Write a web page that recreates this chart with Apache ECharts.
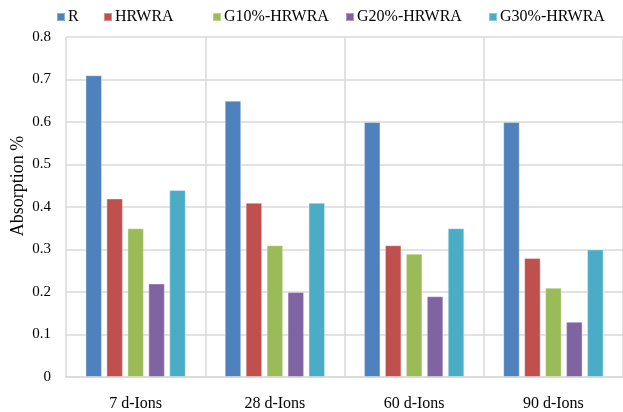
<!DOCTYPE html>
<html>
<head>
<meta charset="utf-8">
<script src="https://cdn.jsdelivr.net/npm/echarts@6/dist/echarts.min.js"></script>
<style>
  html, body { margin: 0; padding: 0; background: #fff; }
  #chart { width: 623px; height: 412px; }
</style>
</head>
<body>
<div id="chart"></div>
<script>
// Categories (exposure periods) and absorption values per mix
const categories = ['7 d-Ions', '28 d-Ions', '60 d-Ions', '90 d-Ions'];
const seriesNames = ['R', 'HRWRA', 'G10%-HRWRA', 'G20%-HRWRA', 'G30%-HRWRA'];
const valuesR     = [0.71, 0.65, 0.60, 0.60];
const valuesHRWRA = [0.42, 0.41, 0.31, 0.28];
const valuesG10   = [0.35, 0.31, 0.29, 0.21];
const valuesG20   = [0.22, 0.20, 0.19, 0.13];
const valuesG30   = [0.44, 0.41, 0.35, 0.30];
const yTicks = [0, 0.1, 0.2, 0.3, 0.4, 0.5, 0.6, 0.7, 0.8];

const seriesValues = [valuesR, valuesHRWRA, valuesG10, valuesG20, valuesG30];
const colors = ['#4F81BD', '#C0504D', '#9BBB59', '#8064A2', '#4BACC6'];
const font = '"Liberation Serif", "Times New Roman", serif';
const gridColor = '#D9D9D9';

// Legend entries placed individually
const legendLeft = [56, 103, 212, 345, 488];
const legends = seriesNames.map((name, i) => ({
  data: [name],
  left: legendLeft[i],
  top: 9,
  padding: 0,
  itemWidth: 8,
  itemHeight: 8,
  itemGap: 0,
  icon: 'rect',
  textStyle: { fontFamily: font, fontSize: 16, color: '#000', padding: [0, 0, 0, -2] }
}));

const chart = echarts.init(document.getElementById('chart'), null, { renderer: 'canvas' });
chart.setOption({
  animation: false,
  backgroundColor: '#fff',
  color: colors,
  legend: legends,
  grid: { left: 66, top: 37, width: 560, height: 343.5, containLabel: false },
  graphic: [{
    type: 'text',
    x: 18,
    y: 186,
    rotation: Math.PI / 2,
    style: {
      text: 'Absorption %',
      font: '18px ' + font,
      fill: '#000',
      textAlign: 'center',
      textVerticalAlign: 'middle'
    }
  }],
  xAxis: {
    type: 'category',
    data: categories,
    axisLine: { show: true, lineStyle: { color: gridColor, width: 1.5 } },
    axisTick: { show: false },
    splitLine: { show: true, lineStyle: { color: gridColor, width: 1.5 } },
    axisLabel: { fontFamily: font, fontSize: 16, color: '#000', margin: 19 }
  },
  yAxis: {
    type: 'value',
    min: yTicks[0],
    max: yTicks[yTicks.length - 1],
    interval: 0.1,
    axisLine: { show: false },
    axisTick: { show: false },
    splitLine: { show: true, lineStyle: { color: gridColor, width: 1.5 } },
    axisLabel: {
      fontFamily: font, fontSize: 15, color: '#000', margin: 15,
      formatter: v => (Math.round(v * 10) / 10).toString()
    }
  },
  series: seriesNames.map((name, i) => ({
    name: name,
    type: 'bar',
    data: seriesValues[i],
    barWidth: 16.5,
    barGap: '27%',
    itemStyle: {
      color: colors[i],
      borderColor: 'rgba(255,255,255,0.35)',
      borderWidth: 1
    }
  }))
});
</script>
</body>
</html>
